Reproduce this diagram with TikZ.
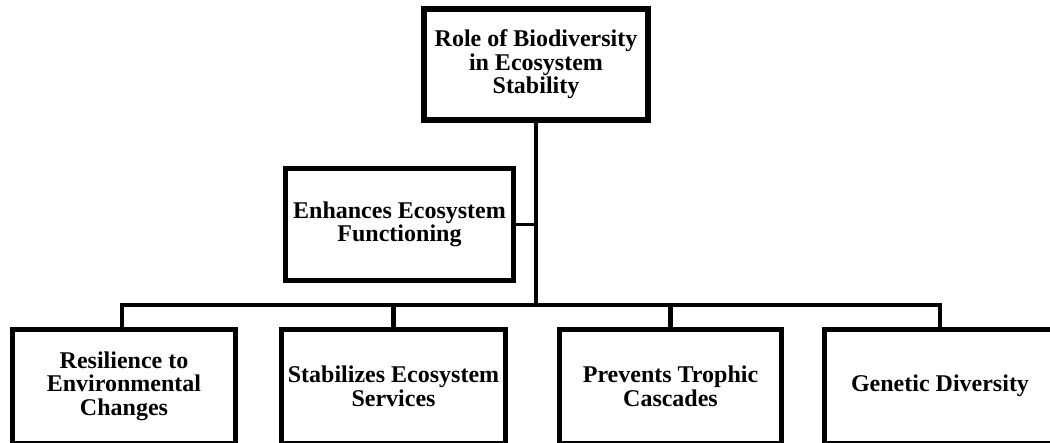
\documentclass[tikz,border=0pt]{standalone}
\usepackage{fontspec}
\setmainfont{Liberation Serif}
\begin{document}
\begin{tikzpicture}[x=1pt,y=-1pt,
  box/.style={draw=black, line width=5pt, fill=white, align=center,
    inner sep=0pt, font=\fontsize{24}{23.5}\selectfont\bfseries},
  link/.style={draw=black, line width=4.8pt},
  thin link/.style={draw=black, line width=3pt}]
\useasboundingbox (0,0) rectangle (1050,442);
\node[box, line width=6pt, minimum width=224pt, minimum height=111pt] (top) at (536,64.5)
  {Role of Biodiversity\\in Ecosystem\\Stability};
\node[box, minimum width=228pt, minimum height=112pt] (enh) at (399.5,224.5)
  {Enhances Ecosystem\\Functioning};
\node[box, minimum width=223pt, minimum height=113.5pt] (b1) at (124,386.25)
  {Resilience to\\Environmental\\Changes};
\node[box, minimum width=224pt, minimum height=113.5pt] (b2) at (393.5,386.25)
  {Stabilizes Ecosystem\\Services};
\node[box, minimum width=222pt, minimum height=113.5pt] (b3) at (670.5,386.25)
  {Prevents Trophic\\Cascades};
\node[box, minimum width=232pt, minimum height=113.5pt] (b4) at (940,386.25)
  {Genetic Diversity};
\coordinate (bus) at (536,305);
\coordinate (busL) at (122,305);
\coordinate (busR) at (940,305);
\draw[link] (top.south) -- (top.south |- bus);
\draw[thin link] (enh.east) -- (enh.east -| top.south);
\draw[link, line cap=rect] (busL) -- (busR);
\draw[link] (busL) -- (busL |- b1.north);
\draw[link] (b2.north |- bus) -- (b2.north);
\draw[link] (b3.north |- bus) -- (b3.north);
\draw[link] (busR) -- (busR |- b4.north);
\end{tikzpicture}
\end{document}
